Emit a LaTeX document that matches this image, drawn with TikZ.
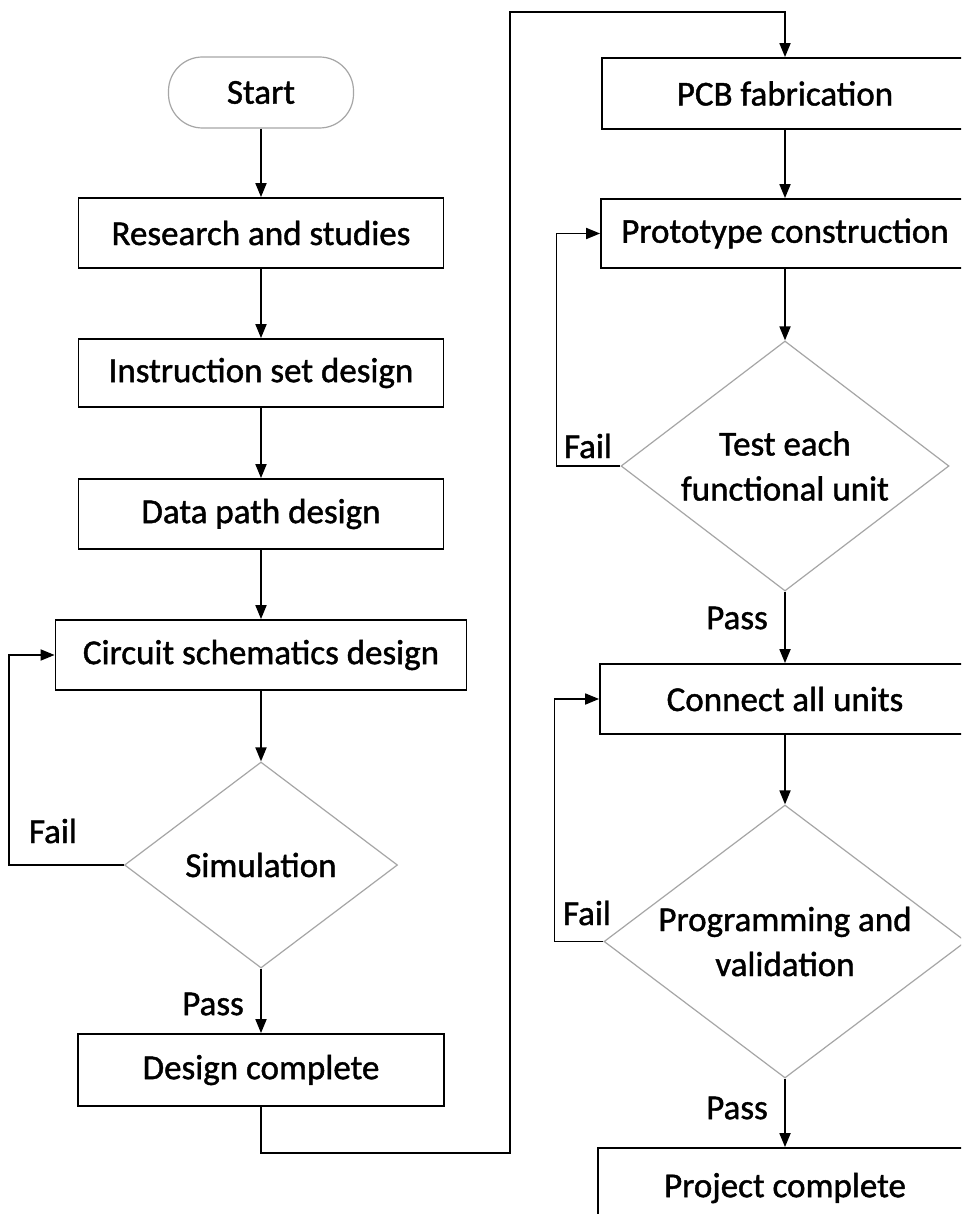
\documentclass[tikz,border=0pt]{standalone}
\usepackage{fontspec}
\setmainfont{Carlito}[FakeBold=1.2]
\usetikzlibrary{arrows.meta,shapes.geometric}
\begin{document}
\begin{tikzpicture}[x=1pt,y=-1pt,
  every node/.style={font=\fontsize{35}{45}\selectfont, inner sep=0pt},
  box/.style={draw=black, line width=1.8pt, rectangle},
  term/.style={draw=gray!70, line width=1.2pt, rectangle, rounded corners=34pt},
  dia/.style={draw=gray!70, line width=1.2pt, diamond},
  txt/.style={align=center},
  conn/.style={draw=black, line width=1.8pt, -{Triangle[length=14pt,width=11pt]}}
]
\useasboundingbox (0,0) rectangle (961,1214);
\fill[white] (0,0) rectangle (961,1214);
\clip (0,0) rectangle (961,1214);

% left column
\node[term, minimum width=185pt, minimum height=71pt] (start) at (261,92.5) {Start};
\node[box, minimum width=365pt, minimum height=70pt] (research) at (261,233) {Research and studies};
\node[box, minimum width=365pt, minimum height=68pt] (instr) at (261,373) {Instruction set design};
\node[box, minimum width=365pt, minimum height=70pt] (datap) at (261,514) {Data path design};
\node[box, minimum width=411pt, minimum height=70pt] (circuit) at (261,655) {Circuit schematics design};
\node[dia, minimum width=273pt, minimum height=206pt] (sim) at (261,865) {};
\node[txt] (simt) at (sim) {Simulation};
\node[box, minimum width=366pt, minimum height=72pt] (design) at (261,1070) {Design complete};

% right column
\node[box, minimum width=366pt, minimum height=71pt] (pcb) at (785,93.5) {PCB fabrication};
\node[box, minimum width=368pt, minimum height=69pt] (proto) at (785,233.5) {Prototype construction};
\node[dia, minimum width=328pt, minimum height=250pt] (test) at (785,466) {};
\node[txt] (testt) at (test) {Test each\\functional unit};
\node[box, minimum width=370pt, minimum height=70pt] (connect) at (785,699) {Connect all units};
\node[dia, minimum width=362pt, minimum height=273pt] (prog) at (785,941.5) {};
\node[txt] (progt) at (prog) {Programming and\\validation};
\node[box, minimum width=374pt, minimum height=80pt] (project) at (785,1188) {Project complete};

% labels
\node (fail1) at (53,831) {Fail};
\node (pass1) at (213,1004) {Pass};
\node (fail2) at (588,446) {Fail};
\node (pass2) at (737,618) {Pass};
\node (fail3) at (587,913) {Fail};
\node (pass3) at (737,1108) {Pass};

% connectors left
\draw[conn] (start.south) -- (research.north);
\draw[conn] (research.south) -- (instr.north);
\draw[conn] (instr.south) -- (datap.north);
\draw[conn] (datap.south) -- (circuit.north);
\draw[conn] (circuit.south) -- (sim.north);
\draw[conn] (sim.south) -- (design.north);
\draw[conn] (sim.west) -- ++(-115,0) |- (circuit.west);

% link between columns
\draw[conn] (design.south) -- ++(0,46) -| (510,12) -| (pcb.north);

% connectors right
\draw[conn] (pcb.south) -- (proto.north);
\draw[conn] (proto.south) -- (test.north);
\draw[conn] (test.west) -- ++(-64,0) |- (proto.west);
\draw[conn] (test.south) -- (connect.north);
\draw[conn] (connect.south) -- (prog.north);
\draw[conn] (prog.west) -- ++(-49,0) |- (connect.west);
\draw[conn] (prog.south) -- (project.north);
\end{tikzpicture}
\end{document}
